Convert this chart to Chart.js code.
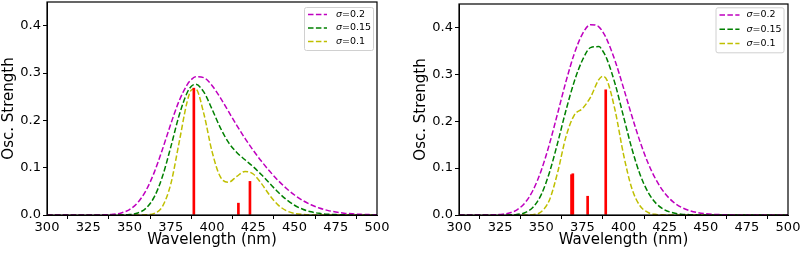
<!DOCTYPE html>
<html>
<head>
<meta charset="utf-8">
<script src="https://cdn.jsdelivr.net/npm/chart.js@4.4.1/dist/chart.umd.min.js"></script>
<style>
  html, body { margin: 0; padding: 0; background: #fff; }
  #wrap { position: relative; width: 800px; height: 254px; }
  .panel { position: absolute; top: 0; width: 400px; height: 254px; }
</style>
</head>
<body>
<div id="wrap">
  <div class="panel" style="left:0"><canvas id="leftChart"></canvas></div>
  <div class="panel" style="left:400px"><canvas id="rightChart"></canvas></div>
</div>
<script>
// Broadened spectra, wavelength grid in nm
const wavelengths = [300, 305, 310, 315, 320, 325, 330, 335, 340, 345, 350, 355, 360, 365, 370, 375, 380, 385, 387.5, 390,
  395, 400, 405, 410, 415, 420, 425, 430, 435, 440, 445, 450, 455, 460, 465, 470, 475, 480, 485, 490, 495, 500];
const sigmas = [0.2, 0.15, 0.1];

// left panel
const leftSigma02 = [0, 0, 0, 0, 0, 0, 0.0001, 0.0004, 0.0014, 0.0043, 0.0115, 0.0262, 0.0518, 0.0901, 0.1390, 0.1921, 0.2405, 0.2755, 0.2862, 0.2921,
  0.2902, 0.2736, 0.2480, 0.2187, 0.1895, 0.1618, 0.1366, 0.1134, 0.0923, 0.0732, 0.0565, 0.0423, 0.0307, 0.0216, 0.0147, 0.0098, 0.0063, 0.0039, 0.0024, 0.0014, 0.0008, 0.0005];
const leftSigma015 = [0, 0, 0, 0, 0, 0, 0, 0, 0, 0.0002, 0.0010, 0.0043, 0.0143, 0.0381, 0.0817, 0.1434, 0.2095, 0.2589, 0.2720, 0.2761,
  0.2600, 0.2238, 0.1846, 0.1533, 0.1321, 0.1167, 0.1019, 0.0850, 0.0666, 0.0485, 0.0328, 0.0206, 0.0121, 0.0067, 0.0035, 0.0017, 0.0008, 0.0003, 0.0001, 0, 0, 0];
const leftSigma01 = [0, 0, 0, 0, 0, 0, 0, 0, 0, 0, 0, 0, 0.0004, 0.0033, 0.0184, 0.0652, 0.1518, 0.2403, 0.2642, 0.2668,
  0.2148, 0.1344, 0.0809, 0.0692, 0.0815, 0.0921, 0.0866, 0.0662, 0.0415, 0.0214, 0.0092, 0.0034, 0.0011, 0.0003, 0, 0, 0, 0, 0, 0, 0, 0];
const leftStickNm = [389, 416, 423];
const leftStickF = [0.268, 0.025, 0.071];

// right panel
const rightSigma02 = [0, 0, 0, 0.0001, 0.0003, 0.0011, 0.0037, 0.0106, 0.0256, 0.0528, 0.0951, 0.1516, 0.2174, 0.2844, 0.3433, 0.3859, 0.4060, 0.4014, 0.3901, 0.3736,
  0.3276, 0.2711, 0.2122, 0.1570, 0.1103, 0.0737, 0.0469, 0.0286, 0.0167, 0.0094, 0.0050, 0.0026, 0.0013, 0.0007, 0.0003, 0.0002, 0, 0, 0, 0, 0, 0];
const rightSigma015 = [0, 0, 0, 0, 0, 0, 0.0002, 0.0011, 0.0049, 0.0166, 0.0436, 0.0908, 0.1544, 0.2229, 0.2839, 0.3301, 0.3570, 0.3591, 0.3492, 0.3319,
  0.2782, 0.2101, 0.1426, 0.0870, 0.0481, 0.0241, 0.0110, 0.0047, 0.0018, 0.0007, 0.0002, 0.0001, 0, 0, 0, 0, 0, 0, 0, 0, 0, 0];
const rightSigma01 = [0, 0, 0, 0, 0, 0, 0, 0, 0.0001, 0.0008, 0.0068, 0.0321, 0.0915, 0.1667, 0.2127, 0.2270, 0.2516, 0.2888, 0.2960, 0.2871,
  0.2214, 0.1292, 0.0574, 0.0197, 0.0053, 0.0011, 0.0002, 0, 0, 0, 0, 0, 0, 0, 0, 0, 0, 0, 0, 0, 0, 0];
const rightStickNm = [368.4, 369.2, 378.2, 389.2];
const rightStickF = [0.086, 0.088, 0.040, 0.267];

const xTicks = [300, 325, 350, 375, 400, 425, 450, 475, 500];
const yTicks = [0.0, 0.1, 0.2, 0.3, 0.4];

const curveColors = ['#bf00bf', '#008000', '#bfbf00'];
const FONT = 'DejaVu Sans';

// black frame round the plot area (matplotlib spines)
const framePlugin = {
  id: 'frame',
  afterDraw(chart) {
    const a = chart.chartArea, ctx = chart.ctx;
    ctx.save();
    ctx.strokeStyle = '#000';
    ctx.lineWidth = 1.2;
    ctx.strokeRect(a.left, a.top, a.right - a.left, a.bottom - a.top);
    ctx.restore();
  }
};

// matplotlib-like legend box in the upper right corner
const boxLegend = {
  id: 'boxLegend',
  afterDraw(chart, args, opts) {
    const a = chart.chartArea, ctx = chart.ctx;
    const x0 = a.right - opts.right - opts.width;
    const y0 = a.top + opts.top;
    ctx.save();
    ctx.fillStyle = 'rgba(255,255,255,0.8)';
    ctx.strokeStyle = '#d0d0d0';
    ctx.lineWidth = 1;
    ctx.beginPath();
    ctx.roundRect(x0 + 0.5, y0 + 0.5, opts.width, opts.height, 2);
    ctx.fill();
    ctx.stroke();
    const sets = chart.data.datasets.filter(d => d.type === 'line');
    sets.forEach((ds, i) => {
      const y = y0 + opts.first + i * opts.gap;
      ctx.strokeStyle = ds.borderColor;
      ctx.lineWidth = 1.5;
      ctx.setLineDash([5.5, 2.4]);
      ctx.beginPath();
      ctx.moveTo(x0 + 4, y);
      ctx.lineTo(x0 + 4 + opts.lineLen, y);
      ctx.stroke();
      ctx.setLineDash([]);
      ctx.fillStyle = '#000';
      ctx.textBaseline = 'middle';
      let tx = x0 + 4 + opts.lineLen + opts.textGap;
      ctx.font = `italic ${opts.size}px ${FONT}`;
      ctx.fillText(ds.label[0], tx, y);
      tx += ctx.measureText(ds.label[0]).width;
      ctx.font = `${opts.size}px ${FONT}`;
      ctx.fillText(ds.label.slice(1), tx, y);
    });
    ctx.restore();
  }
};

function makePanel(canvasId, curves, stickNm, stickF, padding, legendOpts) {
  const datasets = [{
    type: 'bar',
    label: 'sticks',
    data: stickNm.map((x, i) => ({ x, y: stickF[i] })),
    backgroundColor: '#ff0000',
    barThickness: 2,
    borderWidth: 0
  }];
  curves.forEach((vals, i) => {
    datasets.push({
      type: 'line',
      label: '\u03c3=' + sigmas[i],
      data: wavelengths.map((x, j) => ({ x, y: vals[j] })),
      borderColor: curveColors[i],
      borderWidth: 1.5,
      borderDash: [5.5, 2.4],
      pointRadius: 0,
      fill: false,
      cubicInterpolationMode: 'monotone'
    });
  });

  return new Chart(document.getElementById(canvasId), {
    type: 'line',
    data: { datasets },
    options: {
      responsive: true,
      maintainAspectRatio: false,
      animation: false,
      devicePixelRatio: 1,
      layout: { padding },
      plugins: {
        legend: { display: false },
        tooltip: { enabled: false },
        boxLegend: legendOpts
      },
      scales: {
        x: {
          type: 'linear',
          min: 300, max: 500,
          offset: false,
          afterBuildTicks: s => { s.ticks = xTicks.map(v => ({ value: v })); },
          afterFit: s => { s.height = 39; s.paddingLeft = 0; s.paddingRight = 0; },
          ticks: { color: '#000', font: { family: FONT, size: 13 }, padding: 1, maxRotation: 0, autoSkip: false },
          grid: { drawOnChartArea: false, drawTicks: true, tickLength: 4, tickColor: '#000', tickWidth: 1 },
          border: { color: '#000', width: 1 },
          title: { display: true, text: 'Wavelength (nm)', color: '#000', font: { family: FONT, size: 15 }, padding: { top: 0, bottom: 5 } }
        },
        y: {
          min: 0, max: 0.45,
          afterBuildTicks: s => { s.ticks = yTicks.map(v => ({ value: v })); },
          afterFit: s => { s.width = 47; s.paddingTop = 0; s.paddingBottom = 0; },
          ticks: { color: '#000', font: { family: FONT, size: 13 }, padding: 2, callback: v => v.toFixed(1) },
          grid: { drawOnChartArea: false, drawTicks: true, tickLength: 4, tickColor: '#000', tickWidth: 1 },
          border: { color: '#000', width: 1 },
          title: { display: true, text: 'Osc. Strength', color: '#000', font: { family: FONT, size: 15 }, padding: 0 }
        }
      }
    },
    plugins: [framePlugin, boxLegend]
  });
}

makePanel('leftChart', [leftSigma02, leftSigma015, leftSigma01], leftStickNm, leftStickF,
  { top: 2, right: 23, left: 0, bottom: 0 },
  { right: 4, top: 5, width: 69, height: 43, first: 7.5, gap: 13.5, lineLen: 19, textGap: 9, size: 9.5 });

makePanel('rightChart', [rightSigma02, rightSigma015, rightSigma01], rightStickNm, rightStickF,
  { top: 4, right: 12, left: 12, bottom: 0 },
  { right: 4.5, top: 3.3, width: 68, height: 45, first: 7.7, gap: 14.3, lineLen: 20, textGap: 7, size: 9.5 });
</script>
</body>
</html>
